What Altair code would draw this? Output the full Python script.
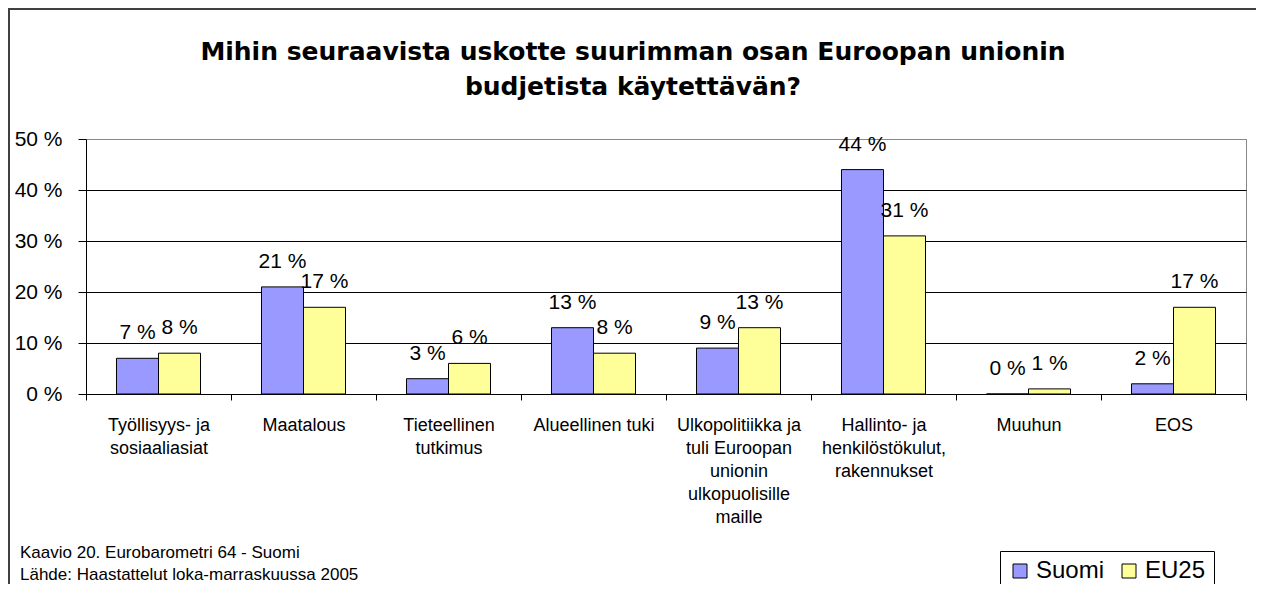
import altair as alt
import pandas as pd

categories = [
    "Työllisyys- ja\nsosiaaliasiat",
    "Maatalous",
    "Tieteellinen\ntutkimus",
    "Alueellinen tuki",
    "Ulkopolitiikka ja\ntuli Euroopan\nunionin\nulkopuolisille\nmaille",
    "Hallinto- ja\nhenkilöstökulut,\nrakennukset",
    "Muuhun",
    "EOS",
]
series_names = ["Suomi", "EU25"]
suomi = [7, 21, 3, 13, 9, 44, 0, 2]
eu25 = [8, 17, 6, 8, 13, 31, 1, 17]
y_ticks = [0, 10, 20, 30, 40, 50]
title_lines = [
    "Mihin seuraavista uskotte suurimman osan Euroopan unionin",
    "budjetista käytettävän?",
]
note_lines = [
    "Kaavio 20. Eurobarometri 64 - Suomi",
    "Lähde: Haastattelut loka-marraskuussa 2005",
]
colors = ["#9999FF", "#FFFF99"]

rows = []
for s, vals in zip(series_names, [suomi, eu25]):
    for c, v in zip(categories, vals):
        rows.append({"cat": c, "series": s, "value": v, "label": f"{v} %"})
df = pd.DataFrame(rows)

x_enc = alt.X(
    "cat:N",
    sort=categories,
    scale=alt.Scale(paddingInner=0, paddingOuter=0),
    axis=alt.Axis(
        title=None,
        labelAngle=0,
        labelExpr="split(datum.label, '\\n')",
        labelFontSize=18,
        labelLineHeight=23,
        labelPadding=16,
        labelBaseline="top",
        labelLimit=240,
        labelOverlap=False,
        labelColor="black",
        tickSize=6,
        tickBand="extent",
        tickColor="black",
        domainColor="black",
        grid=False,
    ),
)
y_enc = alt.Y(
    "value:Q",
    scale=alt.Scale(domain=[0, 50], nice=False, zero=True),
    axis=alt.Axis(
        title=None,
        values=y_ticks,
        labelExpr="datum.value + ' %'",
        labelFontSize=21,
        labelPadding=16,
        labelColor="black",
        tickSize=8,
        tickColor="black",
        domainColor="black",
        grid=True,
        gridColor={"condition": {"test": "datum.value >= 50", "value": "#888888"}, "value": "black"},
    ),
)
xoff = alt.XOffset(
    "series:N", sort=series_names, scale=alt.Scale(paddingInner=0, paddingOuter=0.726)
)

base = alt.Chart(df)

bars = base.mark_bar(stroke="black", strokeWidth=1).encode(
    x=x_enc,
    y=y_enc,
    xOffset=xoff,
    color=alt.Color(
        "series:N",
        sort=series_names,
        scale=alt.Scale(domain=series_names, range=colors),
        legend=alt.Legend(
            title=None,
            orient="none",
            legendX=914,
            legendY=412,
            direction="horizontal",
            symbolType="square",
            symbolSize=196,
            symbolStrokeColor="black",
            symbolStrokeWidth=1,
            symbolOpacity=1,
            labelFontSize=24,
            labelColor="black",
            labelOffset=4,
            columnPadding=12,
            padding=8,
            strokeColor="black",
            fillColor="white",
        ),
    ),
)

labels = base.mark_text(baseline="alphabetic", dy=-19, fontSize=21, color="black").encode(
    x=alt.X("cat:N", sort=categories),
    y="value:Q",
    xOffset=alt.XOffset("series:N", sort=series_names),
    text="label:N",
)

one = pd.DataFrame({"k": [0]})
title = alt.Chart(one).mark_text(
    text=title_lines,
    font="DejaVu Sans",
    fontWeight="bold",
    fontSize=25,
    lineHeight=35,
    align="center",
    baseline="alphabetic",
    color="black",
).encode(x=alt.value(547), y=alt.value(-79))

note = alt.Chart(one).mark_text(
    text=note_lines,
    fontSize=17,
    lineHeight=22,
    align="left",
    baseline="alphabetic",
    color="black",
).encode(x=alt.value(-66), y=alt.value(419))

border_left = alt.Chart(one).mark_rule(color="#404040", strokeWidth=2).encode(
    x=alt.value(-77), y=alt.value(-130), y2=alt.value(460)
)
border_top = alt.Chart(one).mark_rule(color="#404040", strokeWidth=2).encode(
    x=alt.value(-78), x2=alt.value(1180), y=alt.value(-130)
)

chart = (
    alt.layer(bars, labels, title, note, border_left, border_top)
    .properties(
        width=1160,
        height=255,
        autosize=alt.AutoSizeParams(type="none"),
        padding={"left": 78, "top": 131, "right": 10, "bottom": 190},
    )
    .configure(font="Liberation Sans")
    .configure_view(stroke="#888888", strokeWidth=1)
)

chart.save("out.html", embed_options={"renderer": "svg", "actions": False})
